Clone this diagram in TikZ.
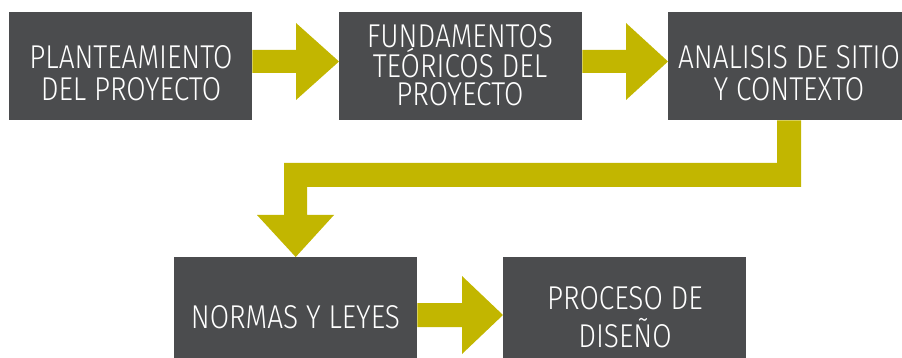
\documentclass[tikz,border=0pt]{standalone}
\usepackage{fontspec}
\newfontfamily\boxfont[FakeStretch=0.85]{Fira Sans Light}
\usetikzlibrary{calc}
\definecolor{boxgray}{RGB}{75,76,78}
\definecolor{arrowolive}{RGB}{194,182,0}
\tikzset{
  stepbox/.style={fill=boxgray, inner sep=0pt, anchor=north west},
  boxtext/.style={text=white, inner sep=0pt, anchor=north, align=center},
  blockarrow/.style={fill=arrowolive}
}
\begin{document}
\begin{tikzpicture}[x=1pt,y=-1pt]
\useasboundingbox (0,0) rectangle (902,358);
% boxes
\node[stepbox, minimum width=243pt, minimum height=108pt] (b1) at (9,12) {};
\node[stepbox, minimum width=243pt, minimum height=108pt] (b2) at (339,12) {};
\node[stepbox, minimum width=234pt, minimum height=108pt] (b3) at (668,12) {};
\node[stepbox, minimum width=243pt, minimum height=101pt] (b4) at (174,257) {};
\node[stepbox, minimum width=243pt, minimum height=101pt] (b5) at (503,257) {};
% texts
\node[boxtext, font=\boxfont\fontsize{33}{32}\selectfont] (t1) at (131,45) {PLANTEAMIENTO\\DEL PROYECTO};
\node[boxtext, font=\boxfont\fontsize{33}{27.5}\selectfont] (t2) at (460,24) {FUNDAMENTOS\\TEÓRICOS DEL\\PROYECTO};
\node[boxtext, font=\boxfont\fontsize{33}{32}\selectfont] (t3) at (789,45) {ANALISIS DE SITIO\\Y CONTEXTO};
\node[boxtext, font=\boxfont\fontsize{33}{32}\selectfont] (t4) at (295.5,305) {NORMAS Y LEYES};
\node[boxtext, font=\boxfont\fontsize{33}{38.5}\selectfont] (t5) at (625,286) {PROCESO DE\\DISEÑO};
% arrows
\fill[blockarrow] (b1.east |- 0,50) -- (296,50) -- (296,23) -- (b2.west |- 0,61.5)
  -- (296,100) -- (296,73) -- (b1.east |- 0,73) -- cycle;
\fill[blockarrow] (b2.east |- 0,50) -- (626,50) -- (626,23) -- (b3.west |- 0,61.5)
  -- (626,100) -- (626,73) -- (b2.east |- 0,73) -- cycle;
\fill[blockarrow] (b4.east |- 0,303) -- (462,303) -- (462,276) -- (b5.west |- 0,315)
  -- (462,354) -- (462,327) -- (b4.east |- 0,327) -- cycle;
\fill[blockarrow] (b3.south -| 777,0) -- (b3.south -| 801,0) -- (801,187) -- (307,187)
  -- (307,215) -- (334,215) -- (b4.north) -- (257,215) -- (284,215) -- (284,163)
  -- (777,163) -- cycle;
\end{tikzpicture}
\end{document}
